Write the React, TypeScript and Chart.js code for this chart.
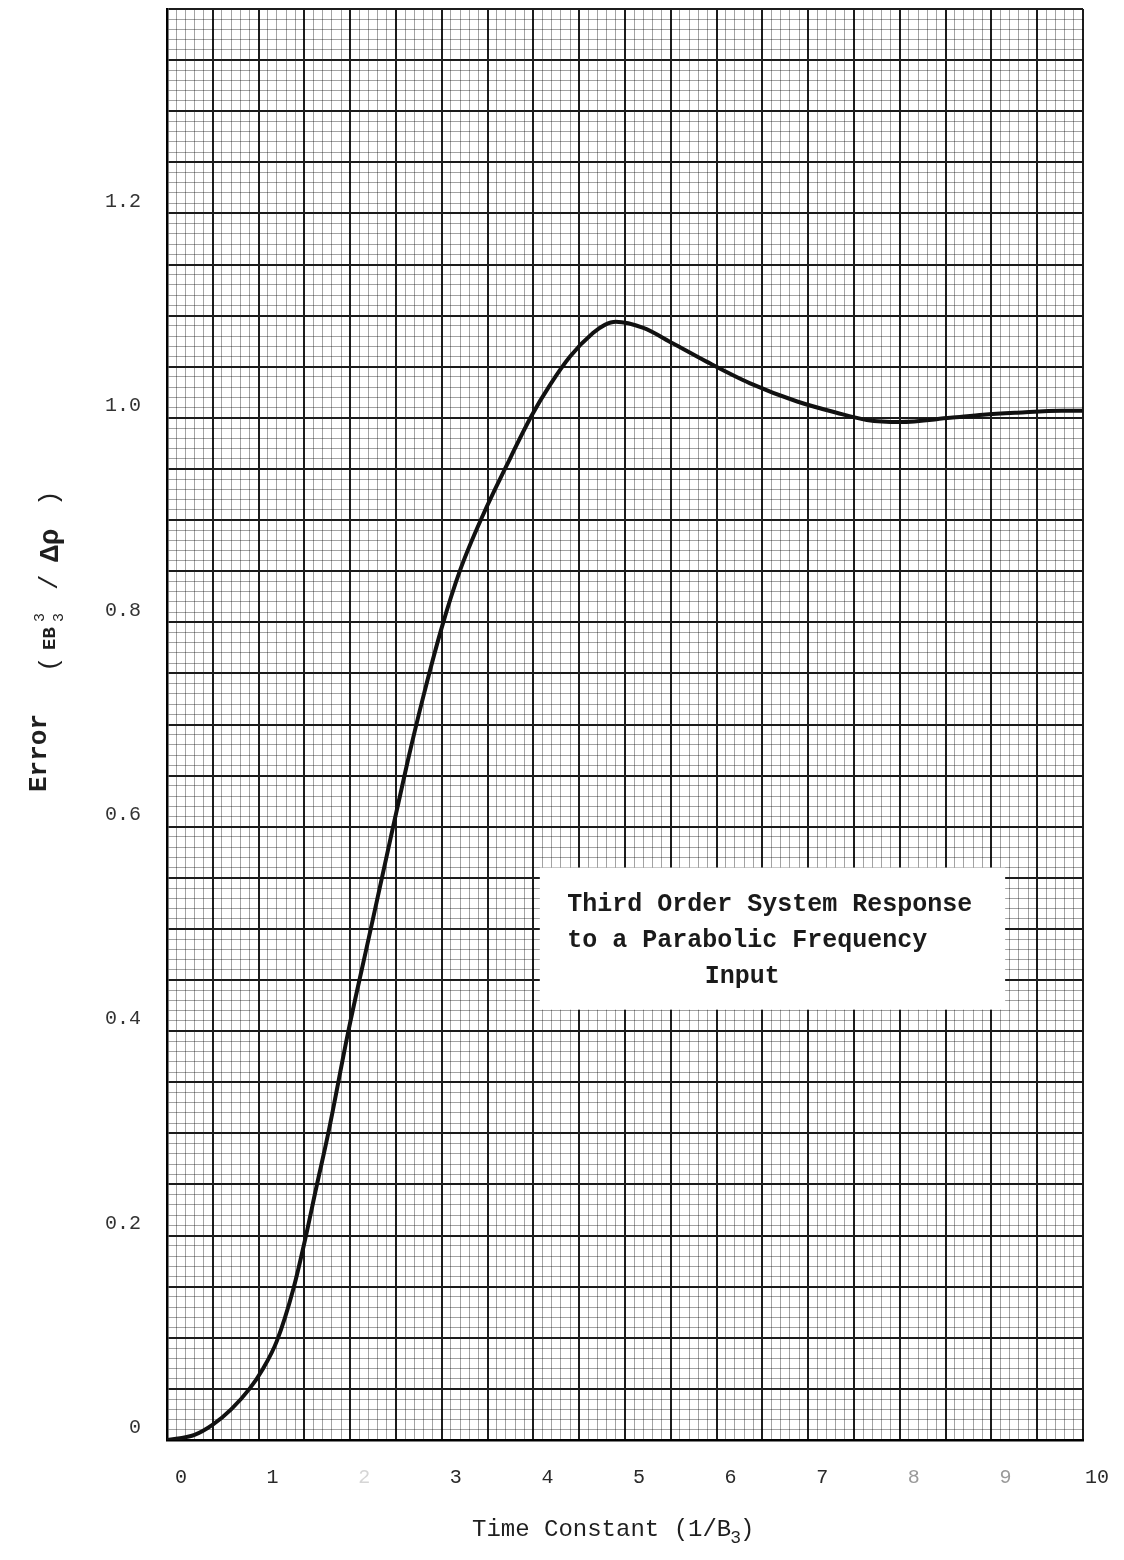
import React, { useEffect, useRef } from 'react';
import { Chart, registerables } from 'chart.js';

Chart.register(...registerables);

// Time constant (1/B3) along the curve
const timeValues = [
  0, 0.3, 0.5, 0.7, 0.9, 1.05, 1.2, 1.38, 1.51, 1.63, 1.76, 1.98, 2.2, 2.4, 2.63,
  2.8, 3.0, 3.2, 3.45, 3.7, 3.98, 4.18, 4.4, 4.65, 4.78, 4.9, 5.2, 5.52, 5.89, 6.36, 6.88,
  7.31, 7.64, 8.0, 8.55, 8.91, 9.28, 9.77, 10,
];
// Error (E B3^3 / Δρ)
const errorValues = [
  0, 0.005, 0.015, 0.03, 0.05, 0.07, 0.097, 0.148, 0.197, 0.247, 0.3, 0.4, 0.49, 0.572, 0.665,
  0.728, 0.795, 0.851, 0.905, 0.952, 1.002, 1.032, 1.06, 1.083, 1.091, 1.094, 1.088, 1.073, 1.055, 1.034, 1.016,
  1.005, 0.998, 0.996, 1.0, 1.003, 1.005, 1.007, 1.007,
];

const xTickLabels = ['0', '1', '2', '3', '4', '5', '6', '7', '8', '9', '10'];
const yTickLabels = ['0', '0.2', '0.4', '0.6', '0.8', '1.0', '1.2'];
const annotationLines = ['Third Order System Response', 'to a Parabolic Frequency', 'Input'];
const xTitleMain = 'Time Constant (1/B';
const xTitleSub = '3';
const yTitleWord = 'Error';

const X_MIN = 0;
const X_MAX = 10;
const Y_MIN = 0;
const Y_MAX = 1.4;

const MONO = "'Liberation Mono', 'DejaVu Sans Mono', monospace";

const isMult = (v: number, step: number) => {
  const r = v / step;
  return Math.abs(r - Math.round(r)) < 1e-6;
};

const overlayPlugin = {
  id: 'paperOverlay',
  beforeDatasetsDraw(chart: any) {
    const { ctx, scales } = chart;
    const xs = scales.x;
    const ys = scales.y;
    ctx.save();
    // white annotation box
    const bx0 = xs.getPixelForValue(4.07);
    const bx1 = xs.getPixelForValue(9.15);
    const by0 = ys.getPixelForValue(0.56);
    const by1 = ys.getPixelForValue(0.421);
    ctx.fillStyle = '#ffffff';
    ctx.fillRect(bx0, by0, bx1 - bx0, by1 - by0);
    ctx.fillStyle = '#1a1a1a';
    ctx.font = `bold 25px ${MONO}`;
    ctx.textBaseline = 'alphabetic';
    ctx.textAlign = 'left';
    const tx = xs.getPixelForValue(4.37);
    ctx.fillText(annotationLines[0], tx, ys.getPixelForValue(0.518));
    ctx.fillText(annotationLines[1], tx, ys.getPixelForValue(0.482));
    ctx.fillText(annotationLines[2], xs.getPixelForValue(5.87), ys.getPixelForValue(0.447));
    ctx.restore();
  },
  afterDraw(chart: any) {
    const { ctx } = chart;
    ctx.save();
    ctx.fillStyle = '#1f1f1f';
    ctx.textBaseline = 'alphabetic';
    ctx.textAlign = 'left';
    // x-axis title
    ctx.font = `24px ${MONO}`;
    const startX = 472;
    const baseY = 1536;
    ctx.fillText(xTitleMain, startX, baseY);
    const w = ctx.measureText(xTitleMain).width;
    ctx.font = `18px ${MONO}`;
    ctx.fillText(xTitleSub, startX + w - 1, baseY + 7);
    const ws = ctx.measureText(xTitleSub).width;
    ctx.font = `24px ${MONO}`;
    ctx.fillText(')', startX + w + ws - 2, baseY);

    // y-axis title (rotated)
    ctx.rotate(-Math.PI / 2);
    // in rotated frame: u = -screenY, v = screenX
    ctx.font = `bold 26px ${MONO}`;
    ctx.fillText(yTitleWord, -792, 46);
    ctx.font = `26px ${MONO}`;
    ctx.fillText('(', -672, 57);
    ctx.font = `bold 19px ${MONO}`;
    ctx.fillText('EB', -650, 55);
    ctx.font = `15px ${MONO}`;
    ctx.fillText('3', -622, 44);
    ctx.fillText('3', -622, 63);
    ctx.font = `26px ${MONO}`;
    ctx.fillText('/', -590, 57);
    ctx.font = `bold 28px ${MONO}`;
    ctx.fillText('\u0394\u03c1', -562, 58);
    ctx.font = `26px ${MONO}`;
    ctx.fillText(')', -506, 57);
    ctx.restore();
  },
};

export default function App() {
  const canvasRef = useRef<HTMLCanvasElement | null>(null);

  useEffect(() => {
    document.body.style.margin = '0';
    document.body.style.overflow = 'hidden';
    const canvas = canvasRef.current;
    if (!canvas) return;

    const chart = new Chart(canvas, {
      type: 'line',
      data: {
        datasets: [
          {
            data: timeValues.map((t, i) => ({ x: t, y: errorValues[i] })),
            borderColor: '#111111',
            borderWidth: 4,
            pointRadius: 0,
            fill: false,
            cubicInterpolationMode: 'monotone',
          },
        ],
      },
      options: {
        responsive: false,
        animation: false,
        devicePixelRatio: 1,
        layout: { padding: { top: 9, right: 41, left: 0, bottom: 0 } },
        plugins: {
          legend: { display: false },
          tooltip: { enabled: false },
        },
        scales: {
          x: {
            type: 'linear',
            min: X_MIN,
            max: X_MAX,
            afterBuildTicks: (scale: any) => {
              const t = [];
              for (let i = 0; i <= 100; i++) t.push({ value: i / 10 });
              scale.ticks = t;
            },
            afterFit: (scale: any) => {
              scale.height = 120;
              scale.paddingLeft = 0;
              scale.paddingRight = 0;
            },
            border: { display: true, color: '#000', width: 2.5 },
            grid: {
              drawTicks: false,
              color: (c: any) => (isMult(c.tick.value, 0.5) ? '#1c1c1c' : 'rgba(0,0,0,0.36)'),
              lineWidth: (c: any) => (isMult(c.tick.value, 0.5) ? 2 : 1),
            },
            ticks: {
              autoSkip: false,
              maxRotation: 0,
              minRotation: 0,
              padding: 26,
              labelOffset: 14,
              font: { family: MONO, size: 20 },
              color: (c: any) => {
                const v = Math.round(c.tick.value);
                if (v === 2) return '#d6d6d6';
                if (v === 8 || v === 9) return '#9a9a9a';
                return '#2a2a2a';
              },
              callback: (value: any) => {
                const v = Number(value);
                return isMult(v, 1) ? xTickLabels[Math.round(v)] ?? '' : '';
              },
            },
          },
          y: {
            type: 'linear',
            min: Y_MIN,
            max: Y_MAX,
            afterBuildTicks: (scale: any) => {
              const t = [];
              for (let i = 0; i <= 140; i++) t.push({ value: i / 100 });
              scale.ticks = t;
            },
            afterFit: (scale: any) => {
              scale.width = 167;
              scale.paddingTop = 0;
              scale.paddingBottom = 0;
            },
            border: { display: true, color: '#000', width: 2.5 },
            grid: {
              drawTicks: false,
              color: (c: any) => (isMult(c.tick.value, 0.05) ? '#1c1c1c' : 'rgba(0,0,0,0.36)'),
              lineWidth: (c: any) => (isMult(c.tick.value, 0.05) ? 2 : 1),
            },
            ticks: {
              autoSkip: false,
              padding: 26,
              labelOffset: -12,
              font: { family: MONO, size: 20 },
              color: '#333333',
              callback: (value: any) => {
                const v = Number(value);
                return isMult(v, 0.2) ? yTickLabels[Math.round(v * 5)] ?? '' : '';
              },
            },
          },
        },
      },
      plugins: [overlayPlugin],
    } as any);

    return () => {
      chart.destroy();
    };
  }, []);

  return (
    <div style={{ width: 1124, height: 1560, background: '#fff' }}>
      <canvas ref={canvasRef} width={1124} height={1560} style={{ display: 'block' }} />
    </div>
  );
}
